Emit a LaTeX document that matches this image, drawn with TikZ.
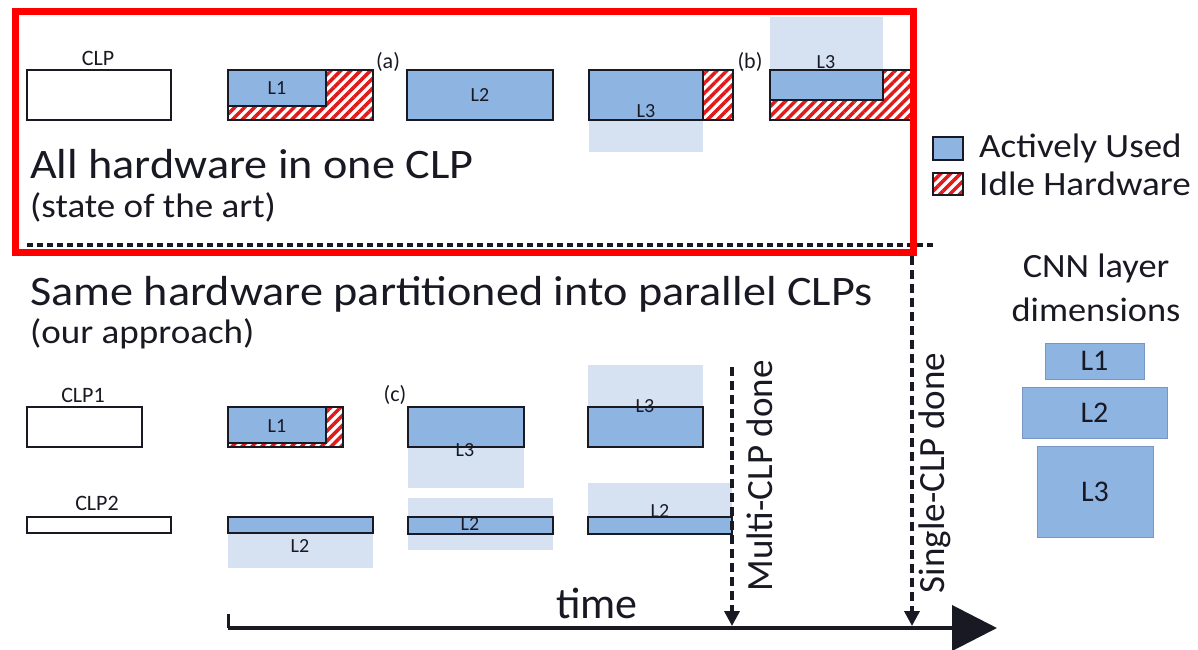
\documentclass[tikz,border=0pt]{standalone}
\usepackage{fontspec}
\setmainfont{Carlito}
\usetikzlibrary{arrows.meta,patterns.meta}

\definecolor{actblue}{RGB}{142,180,226}
\definecolor{shade}{RGB}{214,226,241}
\definecolor{hatchred}{RGB}{225,25,25}
\definecolor{ink}{RGB}{25,25,35}
\definecolor{framered}{RGB}{255,0,0}
\definecolor{dimedge}{RGB}{120,150,195}

\newcommand\fsz[1]{\fontsize{#1}{#1}\selectfont}

\tikzset{
  cornerbox/.style={anchor=north west, inner sep=0pt, outer sep=0pt},
  clpbox/.style={cornerbox, draw=ink, line width=2pt, fill=white},
  activebox/.style={cornerbox, draw=ink, line width=2pt, fill=actblue},
  idlebox/.style={cornerbox, draw=ink, line width=2pt, preaction={fill=white},
    pattern={Lines[angle=45,distance=7pt,line width=3.5pt]}, pattern color=hatchred},
  shadebox/.style={cornerbox, draw=none, fill=shade},
  dimbox/.style={cornerbox, draw=dimedge, line width=1pt, fill=actblue},
  lbltxt/.style={text=ink, font=\fsz{20}, inner sep=0pt},
  cptntxt/.style={text=ink, font=\fsz{22}, inner sep=0pt},
  headtxt/.style={text=ink, font=\fsz{42}, xscale=1.1, anchor=base west, inner sep=0pt},
  subtxt/.style={text=ink, font=\fsz{34}, xscale=1.09, anchor=base west, inner sep=0pt},
  legtxt/.style={text=ink, font=\fsz{34}, xscale=1.09, anchor=west, inner sep=0pt},
  dimtxt/.style={text=ink, font=\fsz{34}, xscale=1.07, anchor=base, inner sep=0pt},
  doneline/.style={draw=ink, line width=3.5pt, dash pattern=on 9pt off 5pt,
    -{Triangle[width=15pt,length=15pt]}},
  donetxt/.style={text=ink, font=\fsz{37}, rotate=90, inner sep=0pt},
}

\begin{document}
\begin{tikzpicture}[x=1pt,y=-1pt]
\useasboundingbox (0,0) rectangle (1198,649);

% ---------- single CLP schedule ----------
\node[cptntxt] (clp0lbl) at (98,58) {CLP};
\node[clpbox, minimum width=144pt, minimum height=50pt] (clp0) at (27,70) {};

\node[idlebox, minimum width=145pt, minimum height=50pt] (t1i) at (228,70) {};
\node[activebox, minimum width=98pt, minimum height=36pt] (t1a) at (228,70) {};
\node[lbltxt] (t1l) at (277,88) {L1};
\node[cptntxt] (tagA) at (388,62) {(a)};

\node[activebox, minimum width=146pt, minimum height=50pt] (t2a) at (407,70) {};
\node[lbltxt] (t2l) at (480,95) {L2};

\node[shadebox, minimum width=114pt, minimum height=82pt] (t3s) at (589,70) {};
\node[idlebox, minimum width=144pt, minimum height=50pt] (t3i) at (589,70) {};
\node[activebox, minimum width=114pt, minimum height=50pt] (t3a) at (589,70) {};
\node[lbltxt] (t3l) at (646,111) {L3};
\node[cptntxt] (tagB) at (750,62) {(b)};

\node[shadebox, minimum width=113pt, minimum height=83pt] (t4s) at (770,17) {};
\node[idlebox, minimum width=143pt, minimum height=50pt] (t4i) at (770,70) {};
\node[activebox, minimum width=113pt, minimum height=30pt] (t4a) at (770,70) {};
\node[lbltxt] (t4l) at (826,62) {L3};

\node[headtxt] (h1) at (30,178) {All hardware in one CLP};
\node[subtxt] (s1) at (30,217) {(state of the art)};

% separator and highlight frame
\coordinate (sepL) at (27,245);
\coordinate (sepR) at (933,245);
\draw[ink, line width=4pt, dash pattern=on 6pt off 4pt] (sepL) -- (sepR);
\node[cornerbox, draw=framered, line width=7pt, minimum width=898pt, minimum height=241pt] (frame) at (15,11) {};

% ---------- legend ----------
\node[activebox, minimum width=30pt, minimum height=23pt] (legA) at (933,137) {};
\node[legtxt] (legAt) at (979,148) {Actively Used};
\node[idlebox, minimum width=30pt, minimum height=22pt] (legI) at (933,173) {};
\node[legtxt] (legIt) at (979,184) {Idle Hardware};

% ---------- parallel CLP schedule ----------
\node[headtxt] (h2) at (30,305) {Same hardware partitioned into parallel CLPs};
\node[subtxt] (s2) at (30,343) {(our approach)};

\node[cptntxt] (clp1lbl) at (83,395) {CLP1};
\node[clpbox, minimum width=115pt, minimum height=40pt] (clp1) at (27,407) {};
\node[cptntxt] (clp2lbl) at (97,503) {CLP2};
\node[clpbox, minimum width=144pt, minimum height=16pt] (clp2) at (27,517) {};

\node[idlebox, minimum width=115pt, minimum height=40pt] (b1i) at (228,407) {};
\node[activebox, minimum width=98pt, minimum height=36pt] (b1a) at (228,407) {};
\node[lbltxt] (b1l) at (277,426) {L1};

\node[shadebox, minimum width=145pt, minimum height=35pt] (b2s) at (228,533) {};
\node[activebox, minimum width=145pt, minimum height=16pt] (b2a) at (228,517) {};
\node[lbltxt] (b2l) at (300,546) {L2};

\node[cptntxt] (tagC) at (395,395) {(c)};
\node[shadebox, minimum width=116pt, minimum height=81pt] (b3s) at (408,407) {};
\node[activebox, minimum width=116pt, minimum height=40pt] (b3a) at (408,407) {};
\node[lbltxt] (b3l) at (465,450) {L3};

\node[shadebox, minimum width=145pt, minimum height=52pt] (b4s) at (408,498) {};
\node[activebox, minimum width=145pt, minimum height=17pt] (b4a) at (408,517) {};
\node[lbltxt] (b4l) at (470,524) {L2};

\node[shadebox, minimum width=115pt, minimum height=82pt] (b5s) at (588,365) {};
\node[activebox, minimum width=115pt, minimum height=40pt] (b5a) at (588,407) {};
\node[lbltxt] (b5l) at (645,406) {L3};

\node[shadebox, minimum width=144pt, minimum height=51pt] (b6s) at (588,483) {};
\node[activebox, minimum width=144pt, minimum height=17pt] (b6a) at (588,517) {};
\node[lbltxt] (b6l) at (660,511) {L2};

% ---------- layer dimensions ----------
\node[dimtxt] (dimt1) at (1096,277) {CNN layer};
\node[dimtxt] (dimt2) at (1096,321) {dimensions};
\node[dimbox, minimum width=99pt, minimum height=36pt] (d1) at (1045,343) {};
\node[text=ink, font=\fsz{30}, inner sep=0pt] (d1l) at (d1.center) {L1};
\node[dimbox, minimum width=145pt, minimum height=51pt] (d2) at (1022,387) {};
\node[text=ink, font=\fsz{30}, inner sep=0pt] (d2l) at (d2.center) {L2};
\node[dimbox, minimum width=116pt, minimum height=91pt] (d3) at (1037,446) {};
\node[text=ink, font=\fsz{30}, inner sep=0pt] (d3l) at (d3.center) {L3};

% ---------- time axis and completion markers ----------
\coordinate (t0) at (228,628);
\coordinate (t1) at (997,628);
\coordinate (tick) at (228,614);
\draw[ink, line width=4pt, -{Triangle[width=45pt,length=45pt]}] (t0) -- (t1);
\draw[ink, line width=3pt] (tick) -- (t0);
\node[text=ink, font=\fsz{44}, inner sep=0pt] (timel) at (597,603) {time};

\coordinate (mtop) at (732,367);
\coordinate (mbot) at (732,626);
\draw[doneline] (mtop) -- (mbot);
\node[donetxt] (mtext) at (760,476) {Multi-CLP done};

\coordinate (stop) at (912,256);
\coordinate (sbot) at (912,626);
\draw[doneline] (stop) -- (sbot);
\node[donetxt] (stext) at (935,473) {Single-CLP done};
\end{tikzpicture}
\end{document}
